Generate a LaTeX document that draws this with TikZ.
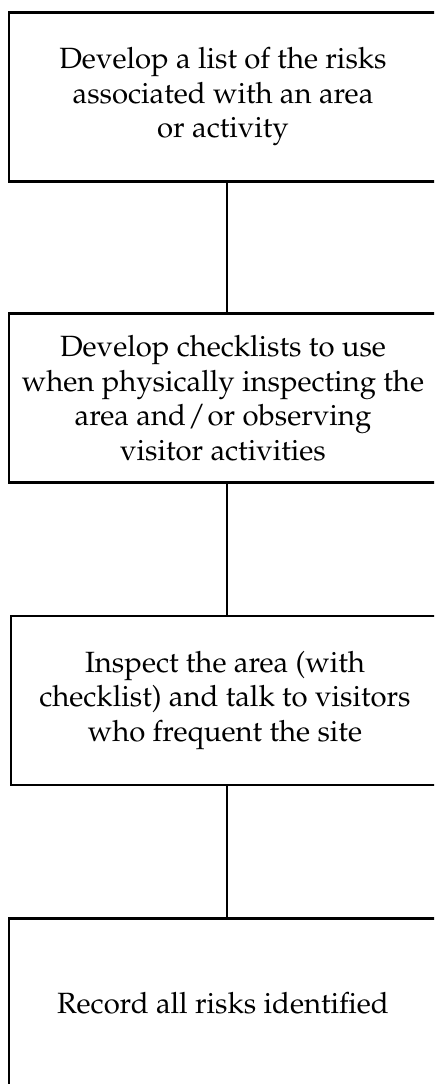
\documentclass[tikz,border=0pt]{standalone}
\usepackage[T1]{fontenc}
\usepackage{mathpazo}
\begin{document}
\begin{tikzpicture}[x=1pt,y=-1pt,
  stepbox/.style={draw=black, line width=2.6pt, rectangle, minimum width=428pt,
    minimum height=169pt, align=center, inner sep=0pt,
    font=\fontsize{29.3}{34.5}\selectfont},
  link/.style={draw=black, line width=2.6pt}]
  \useasboundingbox (0,0) rectangle (434,1084);
  \clip (0,0) rectangle (434,1084);
  \coordinate (spine) at (227,0);
  \node[stepbox] (b1) at (223,97) {Develop a list of the risks\\associated with an area\\or activity};
  \node[stepbox] (b2) at (223,398) {Develop checklists to use\\when physically inspecting the\\area and\kern2pt/\kern2pt or observing\\visitor activities};
  \node[stepbox] (b3) at (225,700.5) {Inspect the area (with\\checklist) and talk to visitors\\who frequent the site};
  \node[stepbox] (b4) at (223,1003) {Record all risks identified};
  \draw[link] (b1.south -| spine) -- (b2.north -| spine);
  \draw[link] (b2.south -| spine) -- (b3.north -| spine);
  \draw[link] (b3.south -| spine) -- (b4.north -| spine);
\end{tikzpicture}
\end{document}
